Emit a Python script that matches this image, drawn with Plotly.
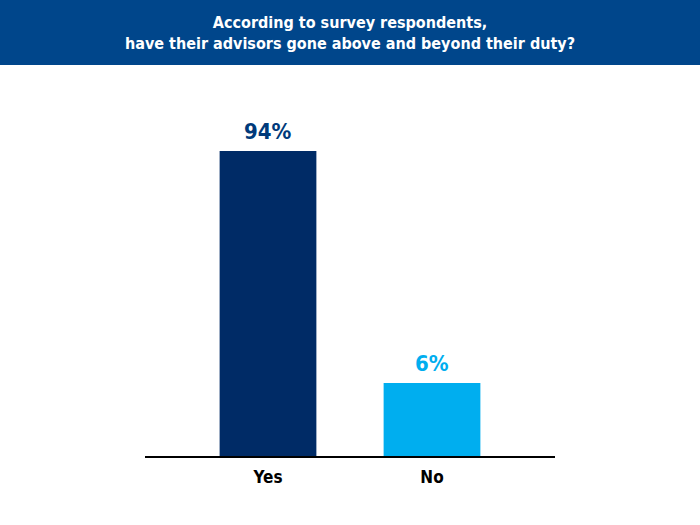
import plotly.graph_objects as go

categories = ["Yes", "No"]
bar_heights = [94, 22.5]          # drawn bar lengths
value_labels = ["94%", "6%"]
bar_colors = ["#002B66", "#00AEEF"]
label_colors = ["#003A7A", "#00AEEF"]
title_text = "According to survey respondents,<br>have their advisors gone above and beyond their duty?"

FONT = "Liberation Sans Narrow, DejaVu Sans Condensed, Roboto, sans-serif"

fig = go.Figure()
fig.add_trace(go.Bar(
    x=categories, y=bar_heights,
    marker=dict(color=bar_colors, line=dict(width=0)),
    width=0.59, hoverinfo="skip",
))

for c, h, t, col in zip(categories, bar_heights, value_labels, label_colors):
    fig.add_annotation(x=c, y=h, text=t, showarrow=False, yanchor="bottom",
                       yshift=5, font=dict(family=FONT, size=22, color=col, weight="bold"))

H_PLOT = 356
fig.add_shape(type="rect", xref="paper", yref="paper",
              x0=-1, x1=2, y0=1 + 35 / H_PLOT, y1=1 + 100 / H_PLOT,
              fillcolor="#00468B", line=dict(width=0), layer="below")

fig.update_layout(
    width=700, height=525,
    margin=dict(l=145, r=145, t=100, b=69),
    paper_bgcolor="white", plot_bgcolor="white",
    showlegend=False,
    title=dict(text=title_text, x=0.5, xanchor="center", xref="paper",
               y=1 - 28 / 525, yanchor="middle", yref="container",
               font=dict(family=FONT, size=16, color="white", weight="bold")),
    xaxis=dict(range=[-0.75, 1.75], showline=True, linecolor="black", linewidth=2,
               ticks="", showgrid=False, zeroline=False, ticklabelstandoff=5,
               tickfont=dict(family=FONT, size=17, color="black", weight="bold")),
    yaxis=dict(range=[0, 109.7], visible=False, showgrid=False, zeroline=False),
)

fig.write_html("out.html", config={"displayModeBar": False},
               post_script="document.body.style.margin='0';")
